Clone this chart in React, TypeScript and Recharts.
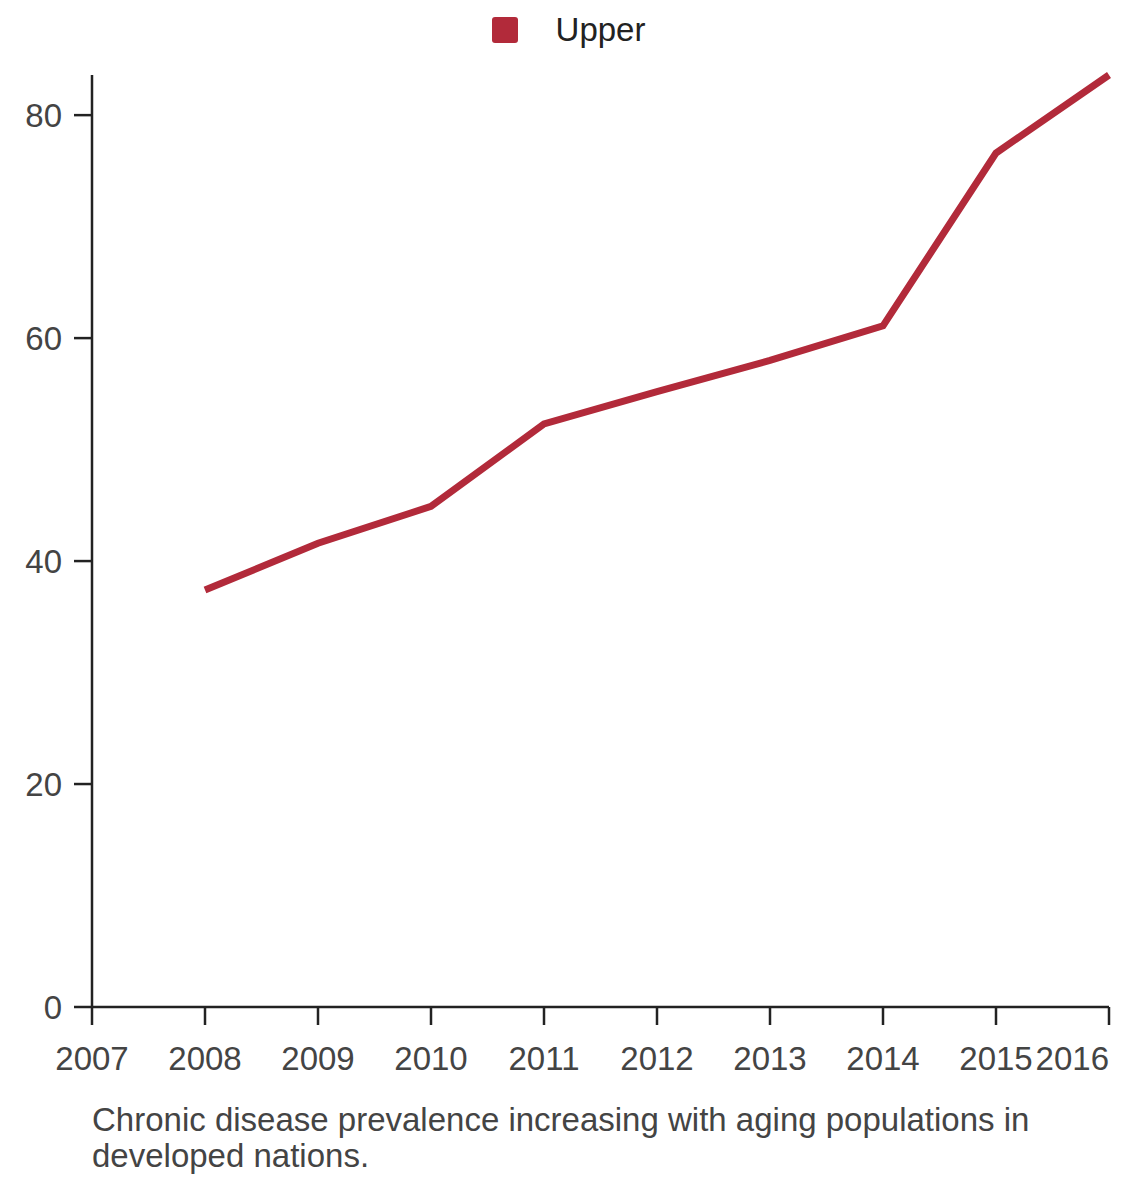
import React from "react";
import { LineChart, Line, XAxis, YAxis, Legend } from "recharts";

const years = [2008, 2009, 2010, 2011, 2012, 2013, 2014, 2015, 2016];
const upperValues = [37.4, 41.6, 44.9, 52.3, 55.2, 58.0, 61.1, 76.6, 83.6];
const xTicks = [2007, 2008, 2009, 2010, 2011, 2012, 2013, 2014, 2015, 2016];
const yTicks = [0, 20, 40, 60, 80];
const seriesName = "Upper";
const caption =
  "Chronic disease prevalence increasing with aging populations in developed nations.";

const data = years.map((y, i) => ({ year: y, upper: upperValues[i] }));

const FONT = "'Liberation Sans', Arial, Helvetica, sans-serif";
const RED = "#b22a3a";
const AXIS = "#222222";
const TEXT = "#444444";

const XTick = (props: any) => {
  const { x, y, payload, index } = props;
  const last = index === xTicks.length - 1;
  return (
    <text
      x={x}
      y={y}
      dy="0.71em"
      textAnchor={last ? "end" : "middle"}
      fill={TEXT}
      fontSize={33}
      fontFamily={FONT}
    >
      {payload.value}
    </text>
  );
};

const LegendContent = () => (
  <div
    style={{
      height: 67,
      display: "flex",
      justifyContent: "center",
      alignItems: "flex-start",
      paddingTop: 9,
      boxSizing: "border-box",
      fontFamily: FONT,
    }}
  >
    <div style={{ display: "flex", alignItems: "center", height: 26, marginLeft: -3 }}>
      <div style={{ width: 26, height: 26, background: RED, borderRadius: 3 }} />
      <span style={{ marginLeft: 38, fontSize: 33, color: "#222", lineHeight: "26px" }}>
        {seriesName}
      </span>
    </div>
  </div>
);

export default function App() {
  return (
    <div style={{ width: 1124, fontFamily: FONT }}>
      <LineChart
        width={1124}
        height={1079}
        data={data}
        margin={{ top: 0, right: 23, bottom: 0, left: 0 }}
      >
        <Legend
          verticalAlign="top"
          content={<LegendContent />}
          wrapperStyle={{ left: 0, top: 0, width: 1124, height: 67 }}
        />
        <XAxis
          dataKey="year"
          type="number"
          domain={[2007, 2016]}
          ticks={xTicks}
          interval={0}
          height={80}
          tickSize={18}
          tickMargin={22}
          stroke={AXIS}
          strokeWidth={2.5}
          tick={<XTick />}
          allowDecimals={false}
        />
        <YAxis
          type="number"
          domain={[0, "dataMax"]}
          ticks={yTicks}
          width={84}
          tickSize={18}
          tickMargin={12}
          stroke={AXIS}
          strokeWidth={2.5}
          tick={{ fill: TEXT, fontSize: 33, fontFamily: FONT }}
        />
        <Line
          type="linear"
          dataKey="upper"
          name={seriesName}
          stroke={RED}
          strokeWidth={7}
          dot={false}
          activeDot={false}
          isAnimationActive={false}
        />
      </LineChart>
      <div
        style={{
          marginTop: 15,
          paddingLeft: 84,
          width: 1030,
          fontSize: 33,
          lineHeight: "36px",
          color: TEXT,
          fontFamily: FONT,
        }}
      >
        {caption}
      </div>
    </div>
  );
}
